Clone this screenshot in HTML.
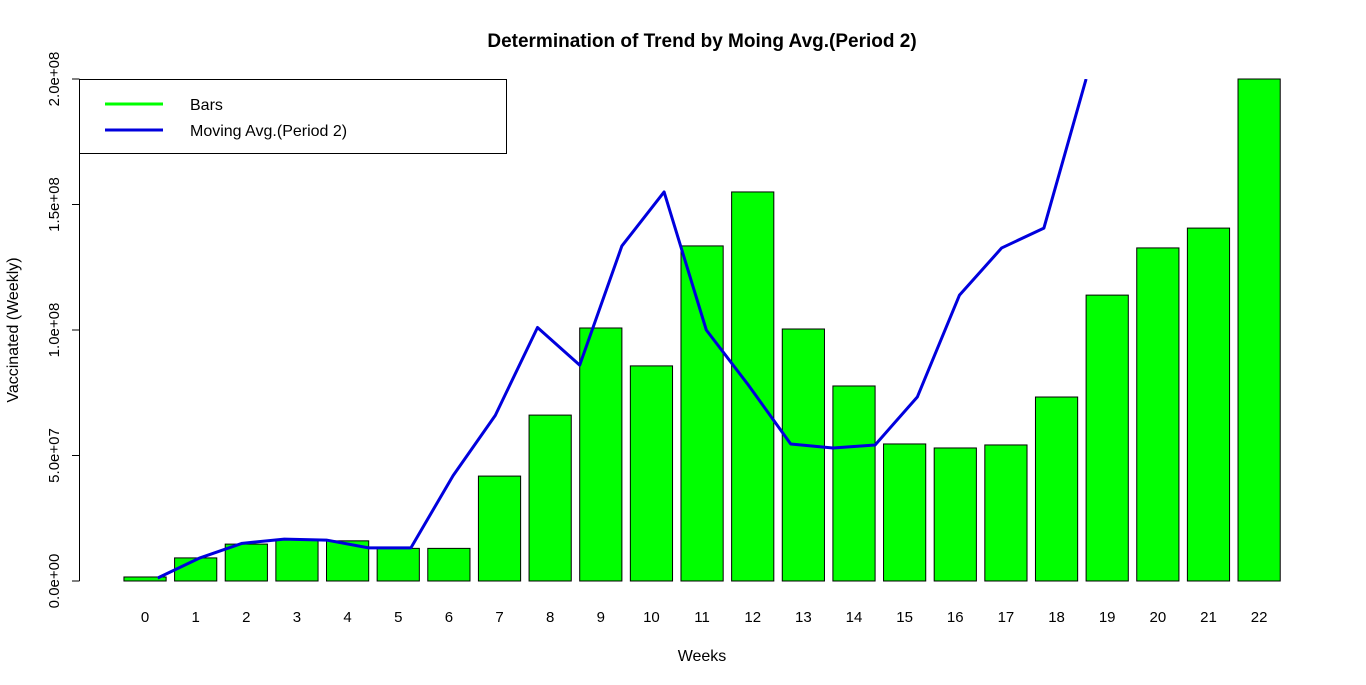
<!DOCTYPE html>
<html><head><meta charset="utf-8"><style>
body{margin:0;background:#fff;}
svg{display:block;font-family:"Liberation Sans",Arial,sans-serif;}
</style></head><body>
<svg id="chart" width="1366" height="685" xmlns="http://www.w3.org/2000/svg">
<text x="702" y="47" text-anchor="middle" font-size="19" font-weight="bold">Determination of Trend by Moing Avg.(Period 2)</text>
<text x="702" y="661" text-anchor="middle" font-size="16">Weeks</text>
<text transform="translate(18,330) rotate(-90)" text-anchor="middle" font-size="16">Vaccinated (Weekly)</text>
<g id="bars"></g>
<g id="xlabels"></g>
<g id="yaxis"></g>
<defs><clipPath id="pc"><rect x="60" y="79" width="1300" height="510"/></clipPath></defs>
<polyline id="maline" fill="none" stroke="#0000dd" stroke-width="3" stroke-linejoin="round" clip-path="url(#pc)"/>
<g>
<rect x="79.5" y="79.5" width="427" height="74" fill="#fff" stroke="#000"/>
<line x1="105" y1="104" x2="163" y2="104" stroke="#00ff00" stroke-width="3"/>
<text x="190" y="110" font-size="16">Bars</text>
<line x1="105" y1="130" x2="163" y2="130" stroke="#0000dd" stroke-width="3"/>
<text x="190" y="136" font-size="16">Moving Avg.(Period 2)</text>
</g>
</svg>
<script>
const weeks=[0,1,2,3,4,5,6,7,8,9,10,11,12,13,14,15,16,17,18,19,20,21,22];
const vaccinated=[1.6e6,9.2e6,1.47e7,1.67e7,1.6e7,1.3e7,1.3e7,4.18e7,6.61e7,1.008e8,8.57e7,1.335e8,1.55e8,1.004e8,7.77e7,5.46e7,5.3e7,5.42e7,7.33e7,1.139e8,1.327e8,1.406e8,2.0e8];
const maX=[1,2,3,4,5,6,7,8,9,10,11,12,13,14,15,16,17,18,19,20,21,22,23];
const maValues=[1.2e6,9.2e6,1.5e7,1.67e7,1.63e7,1.32e7,1.32e7,4.2e7,6.6e7,1.01e8,8.6e7,1.335e8,1.55e8,1.0e8,7.8e7,5.46e7,5.3e7,5.42e7,7.33e7,1.139e8,1.327e8,1.406e8,2.0e8];
const yTicks=[0,5e7,1e8,1.5e8,2e8];
const yTickLabels=["0.0e+00","5.0e+07","1.0e+08","1.5e+08","2.0e+08"];
const NS="http://www.w3.org/2000/svg";
const unitPx=42.2, x0=115.5;
function xu(u){return x0+u*unitPx;}
function y(v){return 581-v/2e8*502;}
const bars=document.getElementById('bars'),xl=document.getElementById('xlabels'),ya=document.getElementById('yaxis');
weeks.forEach((w,i)=>{
  const c=0.7+1.2*i;
  const r=document.createElementNS(NS,'rect');
  
  
  r.setAttribute('x',xu(c-0.5));r.setAttribute('width',unitPx);
  const top=Math.max(y(vaccinated[i]),79);
  r.setAttribute('y',top);r.setAttribute('height',581-top);
  r.setAttribute('fill','#00ff00');r.setAttribute('stroke','#000');r.setAttribute('stroke-width','1');
  bars.appendChild(r);
  const t=document.createElementNS(NS,'text');
  
  
  t.setAttribute('x',xu(c));t.setAttribute('y',622);t.setAttribute('text-anchor','middle');t.setAttribute('font-size','15');
  t.textContent=w;xl.appendChild(t);
});
const ax=document.createElementNS(NS,'line');


ax.setAttribute('x1',79.5);ax.setAttribute('x2',79.5);ax.setAttribute('y1',y(0));ax.setAttribute('y2',y(2e8));ax.setAttribute('stroke','#000');
ya.appendChild(ax);
yTicks.forEach((v,i)=>{
  const l=document.createElementNS(NS,'line');
  
  
  l.setAttribute('x1',72);l.setAttribute('x2',79.5);l.setAttribute('y1',y(v));l.setAttribute('y2',y(v));l.setAttribute('stroke','#000');
  ya.appendChild(l);
  const t=document.createElementNS(NS,'text');
  
  
  t.setAttribute('transform','translate(59,'+y(v)+') rotate(-90)');t.setAttribute('text-anchor','middle');t.setAttribute('font-size','15');
  t.textContent=yTickLabels[i];ya.appendChild(t);
});
document.getElementById('maline').setAttribute('points',maX.map((u,i)=>xu(u)+','+y(maValues[i])).join(' '));
</script>
</body></html>
